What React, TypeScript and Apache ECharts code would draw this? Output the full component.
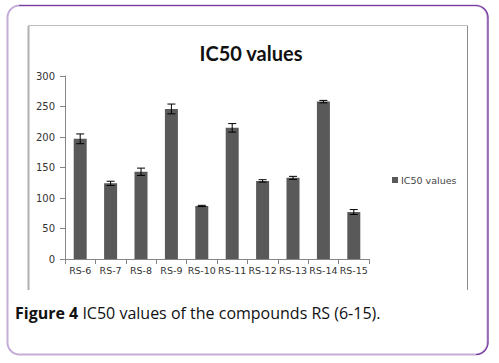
import React, { useEffect, useRef } from "react";
import * as echarts from "echarts";

const categories = ["RS-6", "RS-7", "RS-8", "RS-9", "RS-10", "RS-11", "RS-12", "RS-13", "RS-14", "RS-15"];
const ic50Values = [197, 124, 143, 246, 87, 215, 128, 133, 258, 77];
const errorValues = [8, 3.5, 6, 8, 1, 7, 2, 2.5, 2, 4];
const yTicks = { min: 0, max: 300, interval: 50 };
const seriesName = "IC50 values";
const titleText = "IC50 values";
const captionBold = "Figure 4";
const captionRest = " IC50 values of the compounds RS (6-15).";

export default function App() {
  const ref = useRef<HTMLDivElement>(null);
  useEffect(() => {
    if (!ref.current) return;
    const chart = echarts.init(ref.current, null, { renderer: "svg" });
    const errData = categories.map((_, i) => [i, ic50Values[i], errorValues[i]]);
    chart.setOption({
      animation: false,
      backgroundColor: "#ffffff",
      title: {
        text: titleText,
        left: 246,
        textAlign: "center",
        top: 38,
        textStyle: { fontFamily: "Lato", fontWeight: "bold", fontSize: 20, color: "#111" },
      },
      legend: {
        data: [seriesName],
        left: 387,
        top: 170,
        icon: "rect",
        itemWidth: 6,
        itemHeight: 6,
        itemGap: 4,
        textStyle: { fontFamily: "DejaVu Sans", fontSize: 9.5, color: "#444", padding: [0, 0, 0, -2] },
      },
      grid: { left: 65, right: 130, top: 76, bottom: 104, containLabel: false },
      xAxis: {
        type: "category",
        data: categories,
        axisLine: { lineStyle: { color: "#868686" } },
        axisTick: { show: true, alignWithLabel: false, length: 5, lineStyle: { color: "#868686" } },
        axisLabel: { fontFamily: "DejaVu Sans", fontSize: 9.5, color: "#333", margin: 6, interval: 0 },
      },
      yAxis: {
        type: "value",
        min: yTicks.min,
        max: yTicks.max,
        interval: yTicks.interval,
        axisLine: { show: true, lineStyle: { color: "#868686" } },
        axisTick: { show: true, length: 5, lineStyle: { color: "#868686" } },
        splitLine: { show: false },
        axisLabel: { fontFamily: "DejaVu Sans", fontSize: 10, color: "#333", margin: 10 },
      },
      series: [
        {
          name: seriesName,
          type: "bar",
          data: ic50Values,
          barWidth: 13,
          itemStyle: { color: "#595959" },
        },
        {
          name: "err",
          type: "custom",
          data: errData,
          z: 10,
          renderItem: (params: any, api: any) => {
            const i = api.value(0);
            const v = api.value(1);
            const e = api.value(2);
            const hi = api.coord([i, v + e]);
            const lo = api.coord([i, v - e]);
            const x = hi[0];
            const cw = 4;
            const style = { stroke: "#000", lineWidth: 1 };
            return {
              type: "group",
              children: [
                { type: "line", shape: { x1: x, y1: hi[1], x2: x, y2: lo[1] }, style },
                { type: "line", shape: { x1: x - cw, y1: hi[1], x2: x + cw, y2: hi[1] }, style },
                { type: "line", shape: { x1: x - cw, y1: lo[1], x2: x + cw, y2: lo[1] }, style },
              ],
            };
          },
        },
      ],
      graphic: [
        {
          type: "rect",
          z: -10,
          shape: { x: 7.5, y: 5.5, width: 480, height: 349, r: 12 },
          style: { fill: "none", stroke: "#C4AED8", lineWidth: 2 },
        },
        {
          type: "polyline",
          z: -9,
          shape: { points: [[19, 5.5], [476, 5.5]] },
          style: { stroke: "#7A3D9E", lineWidth: 1.2, fill: "none" },
        },
        {
          type: "arc",
          z: -9,
          shape: { cx: 476, cy: 17.5, r: 12, startAngle: -Math.PI / 2, endAngle: 0 },
          style: { stroke: "#7A3D9E", lineWidth: 1.2, fill: "none" },
        },
        {
          type: "polyline",
          z: -9,
          shape: { points: [[488, 17], [488, 343]] },
          style: { stroke: "#7A3D9E", lineWidth: 1.2, fill: "none" },
        },
        {
          type: "arc",
          z: -9,
          shape: { cx: 476, cy: 342.5, r: 12, startAngle: 0, endAngle: Math.PI / 2 },
          style: { stroke: "#7A3D9E", lineWidth: 1.2, fill: "none" },
        },
        {
          type: "polyline",
          z: -8,
          shape: { points: [[28.5, 290], [28.5, 25.5], [467.5, 25.5], [467.5, 290]] },
          style: { stroke: "#BDBDBD", lineWidth: 1, fill: "none" },
        },
        {
          type: "polyline",
          z: -7,
          shape: { points: [[28.5, 290], [28.5, 26]] },
          style: { stroke: "#B0B0B0", lineWidth: 2, fill: "none" },
        },
        {
          type: "polyline",
          z: -7,
          shape: { points: [[467.5, 290], [467.5, 26]] },
          style: { stroke: "#8C8C8C", lineWidth: 1, fill: "none" },
        },
        {
          type: "text",
          left: 15,
          top: 305,
          style: {
            text: "{b|" + captionBold + "}{r|" + captionRest + "}",
            rich: {
              b: { fontFamily: "Open Sans", fontWeight: "bold", fontSize: 16, fill: "#111" },
              r: { fontFamily: "Open Sans", fontSize: 16, fill: "#111" },
            },
          },
        },
      ],
    });
    return () => chart.dispose();
  }, []);
  return (
    <div
      ref={ref}
      style={{ position: "fixed", left: 0, top: 0, width: 499, height: 363, background: "#fff" }}
    />
  );
}
